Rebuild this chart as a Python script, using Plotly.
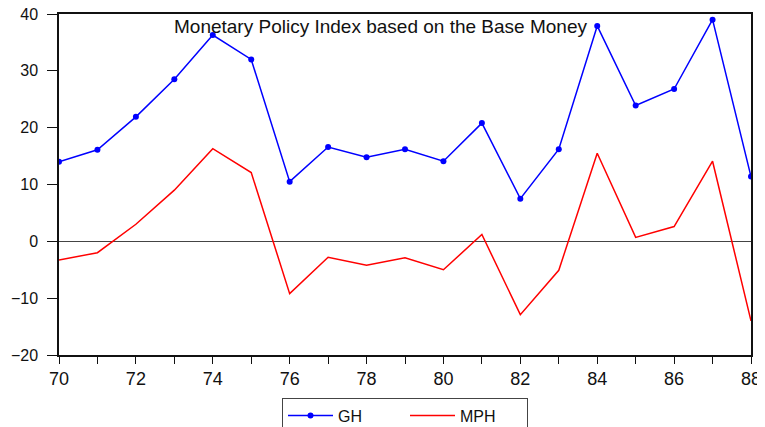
import plotly.graph_objects as go

years = list(range(70, 89))
gh = [14.0, 16.1, 21.9, 28.5, 36.3, 32.0, 10.5, 16.6, 14.8, 16.2, 14.1, 20.8, 7.5, 16.2, 37.9, 23.9, 26.8, 39.0, 11.4]
mph = [-3.3, -2.0, 3.0, 9.0, 16.3, 12.1, -9.2, -2.8, -4.2, -2.9, -5.0, 1.2, -12.9, -5.1, 15.5, 0.7, 2.6, 14.1, -14.0]
x_tick_vals = list(range(70, 89))
x_tick_text = [str(y) if y % 2 == 0 else "" for y in x_tick_vals]
y_tick_vals = [-20, -10, 0, 10, 20, 30, 40]
title_text = "Monetary Policy Index based on the Base Money"

FONT = "Liberation Sans, Arial, sans-serif"

fig = go.Figure()
fig.add_trace(go.Scatter(x=years, y=gh, name="GH", mode="lines+markers",
                         line=dict(color="#0000ff", width=1.5),
                         marker=dict(color="#0000ff", size=6)))
fig.add_trace(go.Scatter(x=years, y=mph, name="MPH", mode="lines",
                         line=dict(color="#ff0000", width=1.5)))

# page body has an 8px margin, so the figure is 8px smaller and margins shifted
fig.update_layout(
    width=757, height=419,
    margin=dict(l=51, r=14, t=6, b=72, autoexpand=False),
    paper_bgcolor="white", plot_bgcolor="white",
    font=dict(family=FONT, size=17, color="#111"),
    showlegend=True,
    legend=dict(orientation="h", x=0.5, xanchor="center", y=-0.125, yanchor="top",
                bordercolor="#444", borderwidth=1, bgcolor="rgba(255,255,255,0)",
                font=dict(size=16), itemwidth=45, entrywidth=62, entrywidthmode="pixels",
                tracegroupgap=0),
    annotations=[dict(text=title_text, xref="paper", yref="paper", x=0.464, y=1.0,
                      xanchor="center", yanchor="top", showarrow=False,
                      font=dict(family=FONT, size=19, color="#111"))],
)
fig.update_xaxes(range=[70, 88], tickvals=x_tick_vals, ticktext=x_tick_text,
                 ticks="outside", ticklen=7, tickcolor="#111", showgrid=False,
                 showline=True, linecolor="#111", linewidth=1.5, mirror=True,
                 zeroline=False, tickfont=dict(size=18), automargin=False,
                 ticklabeloverflow="allow")
fig.update_yaxes(range=[-20, 40], tickvals=y_tick_vals,
                 ticks="outside", ticklen=10, tickcolor="#111", showgrid=False,
                 showline=True, linecolor="#111", linewidth=1.5, mirror=True,
                 zeroline=True, zerolinecolor="#444", zerolinewidth=1,
                 tickfont=dict(size=16), automargin=False,
                 ticklabeloverflow="allow", ticklabelstandoff=6)

fig.write_html("out.html")
